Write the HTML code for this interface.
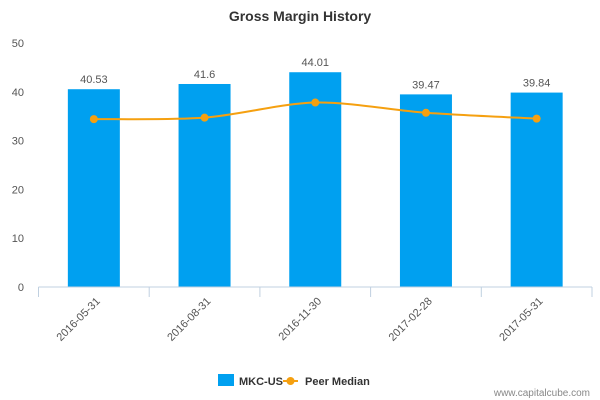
<!DOCTYPE html>
<html><head><meta charset="utf-8"><style>
body{margin:0;background:#fff;}
svg{display:block;font-family:"Liberation Sans","DejaVu Sans",sans-serif;}
</style></head><body>
<svg id="chart" width="600" height="400">
<text x="300" y="21" text-anchor="middle" font-size="14" font-weight="bold" fill="#333">Gross Margin History</text>
<g id="yaxis"></g><g id="bars"></g><g id="line"></g><g id="xaxis"></g>
<g>
<rect x="218" y="374" width="16" height="12" fill="#00a0f0"/>
<text x="239" y="385" font-size="11" font-weight="bold" fill="#333">MKC-US</text>
<line x1="283" y1="381" x2="298" y2="381" stroke="#f5a010" stroke-width="2"/>
<circle cx="290.5" cy="381" r="4" fill="#f5a010"/>
<text x="305" y="385" font-size="11" font-weight="bold" fill="#333">Peer Median</text>
</g>
<text x="590" y="396" text-anchor="end" font-size="10" fill="#888">www.capitalcube.com</text>
</svg>
<script>
const categories=["2016-05-31","2016-08-31","2016-11-30","2017-02-28","2017-05-31"];
const mkcValues=[40.53,41.6,44.01,39.47,39.84];
const peerValues=[34.4,34.7,37.8,35.7,34.5];
const yTicks=[0,10,20,30,40,50];
const NS="http://www.w3.org/2000/svg";
const x0=38.5,x1=592,y0=287,y1=43,yMax=50;
const band=(x1-x0)/categories.length;
const xc=i=>x0+band*(i+0.5);
const ys=v=>y0-(v/yMax)*(y0-y1);
function mk(tag,attrs,parent,text){const e=document.createElementNS(NS,tag);for(const k in attrs)e.setAttribute(k,attrs[k]);if(text!==undefined)e.textContent=text;document.getElementById(parent).appendChild(e);return e;}
yTicks.forEach(t=>{
  const e=mk("text",{x:24,y:ys(t)+4,"text-anchor":"end","font-size":11,fill:"#555"},"yaxis",String(t));
  
  
});
const ax=mk("line",{x1:x0,y1:y0,x2:x1,y2:y0,stroke:"#c0d0e0","stroke-width":1},"xaxis");


for(let i=0;i<=categories.length;i++){
  const tk=mk("line",{x1:x0+band*i,y1:y0,x2:x0+band*i,y2:y0+10,stroke:"#c0d0e0"},"xaxis");
  
  
}
categories.forEach((c,i)=>{
  const x=xc(i),y=y0+12;
  const e=mk("text",{x:x+4,y:y+4,"text-anchor":"end","font-size":11,fill:"#555",transform:`rotate(-45 ${x+4} ${y})`},"xaxis",c);
  
  
  const b=mk("rect",{x:x-26,y:ys(mkcValues[i]),width:52,height:y0-ys(mkcValues[i]),fill:"#00a0f0"},"bars");
  
  
  const l=mk("text",{x:x,y:ys(mkcValues[i])-6,"text-anchor":"middle","font-size":11,fill:"#555"},"bars",String(mkcValues[i]));
  
  
});
const pts=peerValues.map((v,i)=>[xc(i),ys(v)]);
let d=`M${pts[0][0]},${pts[0][1]}`;
for(let i=0;i<pts.length-1;i++){
  const p0=pts[Math.max(0,i-1)],p1=pts[i],p2=pts[i+1],p3=pts[Math.min(pts.length-1,i+2)];
  const t=0.15;
  const c1=[p1[0]+(p2[0]-p0[0])*t,p1[1]+(p2[1]-p0[1])*t];
  const c2=[p2[0]-(p3[0]-p1[0])*t,p2[1]-(p3[1]-p1[1])*t];
  d+=` C${c1[0]},${c1[1]} ${c2[0]},${c2[1]} ${p2[0]},${p2[1]}`;
}
const pl=mk("path",{d:d,fill:"none",stroke:"#f5a010","stroke-width":2},"line");


pts.forEach(p=>{
  const c=mk("circle",{cx:p[0],cy:p[1],r:4,fill:"#f5a010"},"line");
  
  
});
</script>
</body></html>
